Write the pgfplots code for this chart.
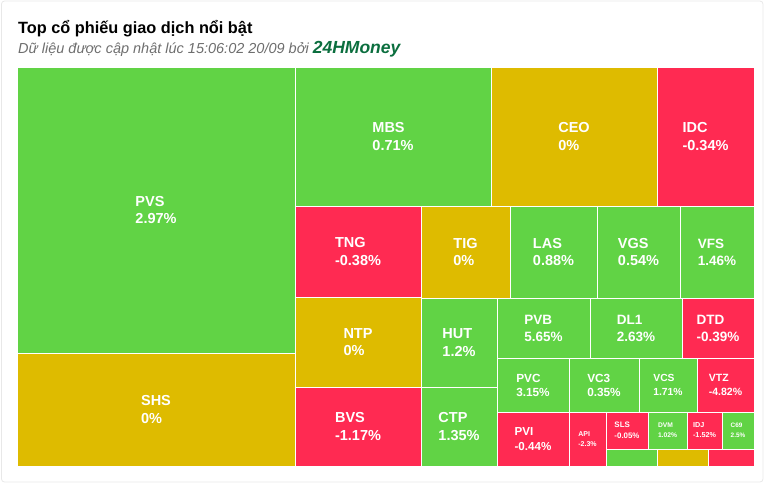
\documentclass[border=0pt]{standalone}
\usepackage{pgfplots}
\pgfplotsset{compat=1.18}
\usepackage{fontspec}
\setmainfont{Liberation Sans}
\definecolor{grn}{RGB}{97,211,69}
\definecolor{ylw}{RGB}{222,187,0}
\definecolor{red}{RGB}{255,42,82}
\definecolor{brand}{RGB}{11,110,62}
\definecolor{sub}{RGB}{110,110,110}
% cell: x0 y0 x1 y1 colour
\newcommand{\cell}[5]{\addplot[fill=#5,draw=white,line width=1pt] coordinates {(#1,#2) (#3,#2) (#3,#4) (#1,#4)} --cycle;}
% label: cx cy size leading text
\newcommand{\lab}[5]{\node[text=white,align=left,inner sep=0pt,font=\bfseries\fontsize{#3}{#4}\selectfont] at (axis cs:#1,#2) {#5};}
\begin{document}
\begin{tikzpicture}
\begin{axis}[
  at={(0,0)}, anchor=north west,
  scale only axis, width=774pt, height=483pt,
  xmin=0, xmax=774, ymin=0, ymax=483, y dir=reverse,
  hide axis, clip=false]
% full picture frame (invisible)
\path (axis cs:0,0) rectangle (axis cs:774,483);
% card outline
\draw[gray!18,line width=0.8pt,rounded corners=3pt] (axis cs:1.5,1) rectangle (axis cs:763,482);
% title
\node[anchor=base west,inner sep=0pt,font=\bfseries\fontsize{16.3}{19}\selectfont] at (axis cs:18,33) {Top cổ phiếu giao dịch nổi bật};
\node[anchor=base west,inner sep=0pt,font=\itshape\fontsize{14.5}{17}\selectfont,text=sub] at (axis cs:18,53) {Dữ liệu được cập nhật lúc 15:06:02 20/09 bởi \textcolor{brand}{\bfseries\fontsize{17.5}{17}\selectfont 24HMoney}};
% cells
\cell{17}{67}{295}{353}{grn}
\cell{17}{353}{295}{466}{ylw}
\cell{295}{67}{491}{206}{grn}
\cell{491}{67}{657}{206}{ylw}
\cell{657}{67}{754}{206}{red}
\cell{295}{206}{421}{297}{red}
\cell{295}{297}{421}{387}{ylw}
\cell{295}{387}{421}{466}{red}
\cell{421}{206}{510}{298}{ylw}
\cell{510}{206}{597}{298}{grn}
\cell{597}{206}{680}{298}{grn}
\cell{680}{206}{754}{298}{grn}
\cell{421}{298}{497}{387}{grn}
\cell{421}{387}{497}{466}{grn}
\cell{497}{298}{590}{358}{grn}
\cell{590}{298}{682}{358}{grn}
\cell{682}{298}{754}{358}{red}
\cell{497}{358}{569}{412}{grn}
\cell{569}{358}{639}{412}{grn}
\cell{639}{358}{697}{412}{grn}
\cell{697}{358}{754}{412}{red}
\cell{497}{412}{569}{466}{red}
\cell{569}{412}{606}{466}{red}
\cell{606}{412}{648}{449}{red}
\cell{648}{412}{687}{449}{grn}
\cell{687}{412}{722}{449}{red}
\cell{722}{412}{754}{449}{grn}
\cell{606}{449}{657}{466}{grn}
\cell{657}{449}{708}{466}{ylw}
\cell{708}{449}{754}{466}{red}
% labels
\lab{156}{210}{14.5}{17.4}{PVS\\2.97\%}
\lab{156}{409.5}{14.5}{17.4}{SHS\\0\%}
\lab{393}{136.5}{14.5}{17.4}{MBS\\0.71\%}
\lab{574}{136.5}{14.5}{17.4}{CEO\\0\%}
\lab{705.5}{136.5}{14.5}{17.4}{IDC\\-0.34\%}
\lab{358}{251.5}{14.5}{17.4}{TNG\\-0.38\%}
\lab{358}{342}{14.5}{17.4}{NTP\\0\%}
\lab{358}{426.5}{14.5}{17.4}{BVS\\-1.17\%}
\lab{465.5}{252}{14.5}{17.4}{TIG\\0\%}
\lab{553.5}{252}{14.5}{17.4}{LAS\\0.88\%}
\lab{638.5}{252}{14.5}{17.4}{VGS\\0.54\%}
\lab{717}{252}{13.5}{17}{VFS\\1.46\%}
\lab{459}{342.5}{14.5}{17.4}{HUT\\1.2\%}
\lab{459}{426.5}{14.5}{17.4}{CTP\\1.35\%}
\lab{543.5}{328}{13.5}{17}{PVB\\5.65\%}
\lab{636}{328}{13.5}{17}{DL1\\2.63\%}
\lab{718}{328}{13.5}{17}{DTD\\-0.39\%}
\lab{533}{385}{11.8}{14}{PVC\\3.15\%}
\lab{604}{385}{11.8}{14}{VC3\\0.35\%}
\lab{668}{385}{10.3}{14}{VCS\\1.71\%}
\lab{725.5}{385}{10.5}{14}{VTZ\\-4.82\%}
\lab{533}{439}{11.6}{15.5}{PVI\\-0.44\%}
\lab{587.5}{439}{7}{9.5}{API\\-2.3\%}
\lab{627}{430.5}{7.9}{10.7}{SLS\\-0.05\%}
\lab{667.5}{430.5}{6.7}{10}{DVM\\1.02\%}
\lab{704.5}{430.5}{7.2}{10}{IDJ\\-1.52\%}
\lab{738}{430.5}{6.4}{9.5}{C69\\2.5\%}
\end{axis}
\end{tikzpicture}
\end{document}
